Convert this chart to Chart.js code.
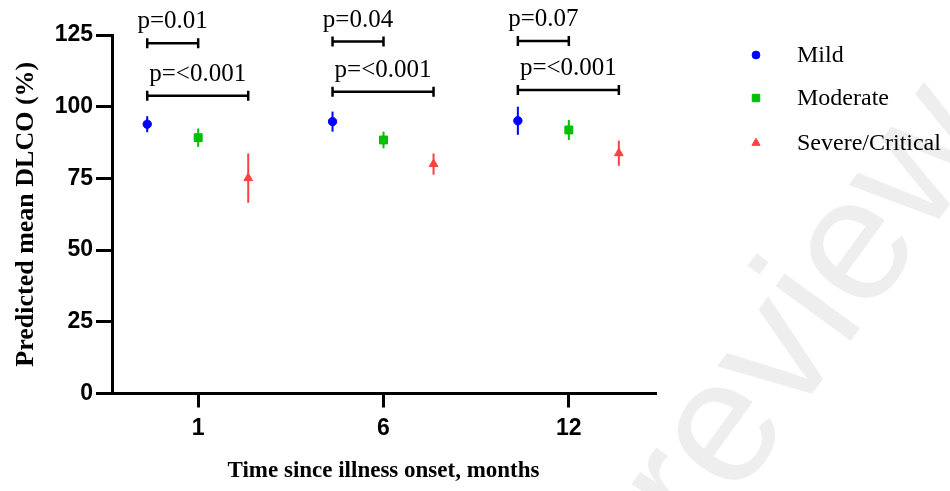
<!DOCTYPE html>
<html lang="en">
<head>
<meta charset="UTF-8">
<title>Predicted mean DLCO by severity</title>
<script src="https://cdn.jsdelivr.net/npm/chart.js@4.4.0/dist/chart.umd.min.js"></script>
<style>
  html, body { margin: 0; padding: 0; background: #fff; }
  #wrap { width: 950px; height: 491px; }
</style>
</head>
<body>
<div id="wrap"><canvas id="dlcoChart" width="950" height="491"></canvas></div>
<script>
// time points (months since illness onset)
var timeLabels = ['1', '6', '12'];
var groupNames = ['Mild', 'Moderate', 'Severe/Critical'];
var groupColors = ['#0000ff', '#00c000', '#ff4040'];

// predicted mean DLCO (%) and error half-widths
var mildMean = [93.9, 94.8, 95.1];
var mildErr = [2.8, 3.5, 4.9];
var moderateMean = [89.2, 88.4, 91.9];
var moderateErr = [3.2, 2.9, 3.5];
var severeMean = [75.1, 80.0, 83.8];
var severeErr = [8.6, 3.7, 4.4];

// comparison brackets: short = Mild vs Moderate, long = Mild vs Severe/Critical
var shortP = ['p=0.01', 'p=0.04', 'p=0.07'];
var shortY = [122.1, 122.7, 122.9];
var longP = ['p=<0.001', 'p=<0.001', 'p=<0.001'];
var longY = [103.8, 105.2, 105.8];

// horizontal shift of each group around its time point
var groupOffset = [-0.275, 0, 0.27];

function toPoints(means, errs, g) {
    return means.map(function (v, i) {
        return { x: i + 1 + groupOffset[g], y: v, err: errs[i] };
    });
}

var serif = "'Liberation Serif', 'Times New Roman', serif";
var sans = "'Liberation Sans', Arial, sans-serif";

// faint diagonal watermark in the background
var watermark = {
    id: 'watermark',
    beforeDraw: function (chart) {
        var ctx = chart.ctx;
        ctx.save();
        ctx.translate(700, 548);
        ctx.rotate(-54 * Math.PI / 180);
        ctx.font = '176px ' + sans;
        ctx.fillStyle = '#eeeeee';
        ctx.textBaseline = 'alphabetic';
        ctx.fillText('review', 0, 0);
        ctx.restore();
    }
};

// vertical error bars through the y scale
var errorBars = {
    id: 'errorBars',
    beforeDatasetsDraw: function (chart) {
        var ctx = chart.ctx;
        var yScale = chart.scales.y;
        chart.data.datasets.forEach(function (ds, di) {
            var meta = chart.getDatasetMeta(di);
            ctx.save();
            ctx.strokeStyle = ds.borderColor;
            ctx.lineWidth = 2;
            meta.data.forEach(function (el, i) {
                var d = ds.data[i];
                ctx.beginPath();
                ctx.moveTo(el.x, yScale.getPixelForValue(d.y - d.err));
                ctx.lineTo(el.x, yScale.getPixelForValue(d.y + d.err));
                ctx.stroke();
            });
            ctx.restore();
        });
    }
};

// significance brackets with p-value labels
var brackets = {
    id: 'brackets',
    afterDatasetsDraw: function (chart) {
        var ctx = chart.ctx;
        var xs = chart.scales.x, ys = chart.scales.y;
        function bracket(t, g, yVal, label) {
            var x1 = xs.getPixelForValue(t + 1 + groupOffset[0]);
            var x2 = xs.getPixelForValue(t + 1 + groupOffset[g]);
            var y = ys.getPixelForValue(yVal);
            ctx.beginPath();
            ctx.moveTo(x1, y);
            ctx.lineTo(x2, y);
            ctx.moveTo(x1, y - 5);
            ctx.lineTo(x1, y + 5);
            ctx.moveTo(x2, y - 5);
            ctx.lineTo(x2, y + 5);
            ctx.stroke();
            ctx.fillText(label, (x1 + x2) / 2, y - 15);
        }
        ctx.save();
        ctx.strokeStyle = '#000';
        ctx.lineWidth = 2.5;
        ctx.fillStyle = '#000';
        ctx.font = '25px ' + serif;
        ctx.textAlign = 'center';
        ctx.textBaseline = 'alphabetic';
        for (var t = 0; t < timeLabels.length; t++) {
            bracket(t, 1, shortY[t], shortP[t]);
            bracket(t, 2, longY[t], longP[t]);
        }
        ctx.restore();
    }
};

// legend on the right
var sideLegend = {
    id: 'sideLegend',
    afterDraw: function (chart) {
        var ctx = chart.ctx;
        var left = chart.chartArea.right + 101;
        var rows = [55, 98, 143];
        ctx.save();
        ctx.font = '24px ' + serif;
        ctx.textBaseline = 'middle';
        chart.data.datasets.forEach(function (ds, i) {
            ctx.fillStyle = ds.backgroundColor;
            ctx.strokeStyle = ds.borderColor;
            ctx.lineWidth = 1;
            Chart.helpers.drawPoint(ctx, {
                pointStyle: ds.pointStyle, radius: ds.pointRadius - 0.3, rotation: 0, borderWidth: 1
            }, left, rows[i]);
            ctx.fillStyle = '#000';
            ctx.fillText(ds.label, left + 41, rows[i] + 1);
        });
        ctx.restore();
    }
};

var ctx = document.getElementById('dlcoChart').getContext('2d');
var myChart = new Chart(ctx, {
    type: 'scatter',
    data: {
        datasets: [
            {
                label: groupNames[0], data: toPoints(mildMean, mildErr, 0),
                pointStyle: 'circle', pointRadius: 4.2,
                backgroundColor: groupColors[0], borderColor: groupColors[0], borderWidth: 1
            },
            {
                label: groupNames[1], data: toPoints(moderateMean, moderateErr, 1),
                pointStyle: 'rect', pointRadius: 5.6,
                backgroundColor: groupColors[1], borderColor: groupColors[1], borderWidth: 1
            },
            {
                label: groupNames[2], data: toPoints(severeMean, severeErr, 2),
                pointStyle: 'triangle', pointRadius: 5,
                backgroundColor: groupColors[2], borderColor: groupColors[2], borderWidth: 1
            }
        ]
    },
    options: {
        responsive: false,
        devicePixelRatio: 1,
        animation: false,
        layout: { padding: { top: 35, right: 295, bottom: 0, left: 0 } },
        plugins: {
            legend: { display: false },
            tooltip: { enabled: false }
        },
        scales: {
            x: {
                type: 'linear',
                min: 0.535,
                max: 3.465,
                afterBuildTicks: function (scale) {
                    scale.ticks = timeLabels.map(function (t, i) { return { value: i + 1 }; });
                },
                afterFit: function (scale) { scale.height = 97.5; },
                ticks: {
                    autoSkip: false,
                    maxRotation: 0,
                    padding: 7,
                    color: '#000',
                    font: { family: sans, size: 23, weight: 'bold' },
                    callback: function (value) { return timeLabels[value - 1]; }
                },
                grid: { drawOnChartArea: false, drawTicks: true, tickLength: 14, lineWidth: 3, color: '#000' },
                border: { display: true, width: 3, color: '#000' },
                title: {
                    display: true,
                    text: 'Time since illness onset, months',
                    color: '#000',
                    font: { family: serif, size: 23, weight: 'bold' },
                    padding: { top: 0, bottom: 6 }
                }
            },
            y: {
                min: 0,
                max: 125,
                afterFit: function (scale) { scale.width = 112; },
                ticks: {
                    stepSize: 25,
                    padding: 3,
                    color: '#000',
                    font: { family: sans, size: 23, weight: 'bold' }
                },
                grid: { drawOnChartArea: false, drawTicks: true, tickLength: 16, lineWidth: 3, color: '#000' },
                border: { display: true, width: 3, color: '#000' },
                title: {
                    display: true,
                    text: 'Predicted mean DLCO (%)',
                    color: '#000',
                    font: { family: serif, size: 26, weight: 'bold' },
                    padding: { top: 11, bottom: 0 }
                }
            }
        }
    },
    plugins: [watermark, errorBars, brackets, sideLegend]
});
</script>
</body>
</html>
